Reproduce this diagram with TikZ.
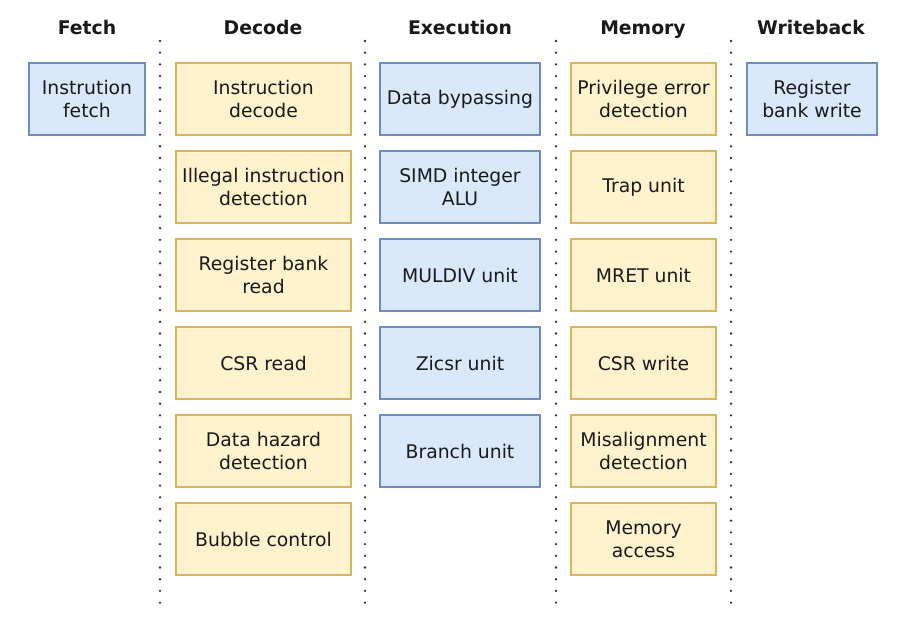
\documentclass[tikz,border=0pt]{standalone}
\usepackage{fontspec}
\setmainfont{DejaVu Sans}
\definecolor{bluefill}{HTML}{DAE8FC}
\definecolor{bluedraw}{HTML}{6C8EBF}
\definecolor{yellowfill}{HTML}{FFF2CC}
\definecolor{yellowdraw}{HTML}{D6B656}
\definecolor{txt}{HTML}{1A1A1A}

\begin{document}
\begin{tikzpicture}[x=1pt, y=-1pt,
  unit/.style={draw, line width=2pt, minimum height=72pt, inner sep=0pt,
    align=center, text=txt, font=\fontsize{18.8}{23}\selectfont},
  blueunit/.style={unit, fill=bluefill, draw=bluedraw},
  yellowunit/.style={unit, fill=yellowfill, draw=yellowdraw},
  stage/.style={anchor=base, text=txt, font=\fontsize{18.8}{23}\selectfont\bfseries},
  sep/.style={line width=2.6pt, line cap=round, dash pattern=on 0pt off 11.7pt, color=black!80}]
\useasboundingbox (0,0) rectangle (903,639);

% stage headers
\node[stage] (hfetch) at (87,35) {Fetch};
\node[stage] (hdecode) at (263,35) {Decode};
\node[stage] (hexec) at (460,35) {Execution};
\node[stage] (hmem) at (643,35) {Memory};
\node[stage] (hwb) at (811,35) {Writeback};

% separators
\draw[sep] (160,41) -- (160,604);
\draw[sep] (365,41) -- (365,604);
\draw[sep] (556,41) -- (556,604);
\draw[sep] (731,41) -- (731,604);

% fetch
\node[blueunit, minimum width=116pt] (if) at (87,99) {Instrution\\fetch};

% decode
\node[yellowunit, minimum width=175pt] (id) at (263.5,99) {Instruction\\decode};
\node[yellowunit, minimum width=175pt] (illegal) at (263.5,187) {Illegal instruction\\detection};
\node[yellowunit, minimum width=175pt] (rbread) at (263.5,275) {Register bank\\read};
\node[yellowunit, minimum width=175pt] (csrread) at (263.5,363) {CSR read};
\node[yellowunit, minimum width=175pt] (hazard) at (263.5,451) {Data hazard\\detection};
\node[yellowunit, minimum width=175pt] (bubble) at (263.5,539) {Bubble control};

% execution
\node[blueunit, minimum width=160pt] (bypass) at (460,99) {Data bypassing};
\node[blueunit, minimum width=160pt] (alu) at (460,187) {SIMD integer\\ALU};
\node[blueunit, minimum width=160pt] (muldiv) at (460,275) {MULDIV unit};
\node[blueunit, minimum width=160pt] (zicsr) at (460,363) {Zicsr unit};
\node[blueunit, minimum width=160pt] (branch) at (460,451) {Branch unit};

% memory
\node[yellowunit, minimum width=145pt] (priv) at (643.5,99) {Privilege error\\detection};
\node[yellowunit, minimum width=145pt] (trap) at (643.5,187) {Trap unit};
\node[yellowunit, minimum width=145pt] (mret) at (643.5,275) {MRET unit};
\node[yellowunit, minimum width=145pt] (csrwrite) at (643.5,363) {CSR write};
\node[yellowunit, minimum width=145pt] (misalign) at (643.5,451) {Misalignment\\detection};
\node[yellowunit, minimum width=145pt] (memacc) at (643.5,539) {Memory\\access};

% writeback
\node[blueunit, minimum width=130pt] (rbwrite) at (812,99) {Register\\bank write};
\end{tikzpicture}
\end{document}
